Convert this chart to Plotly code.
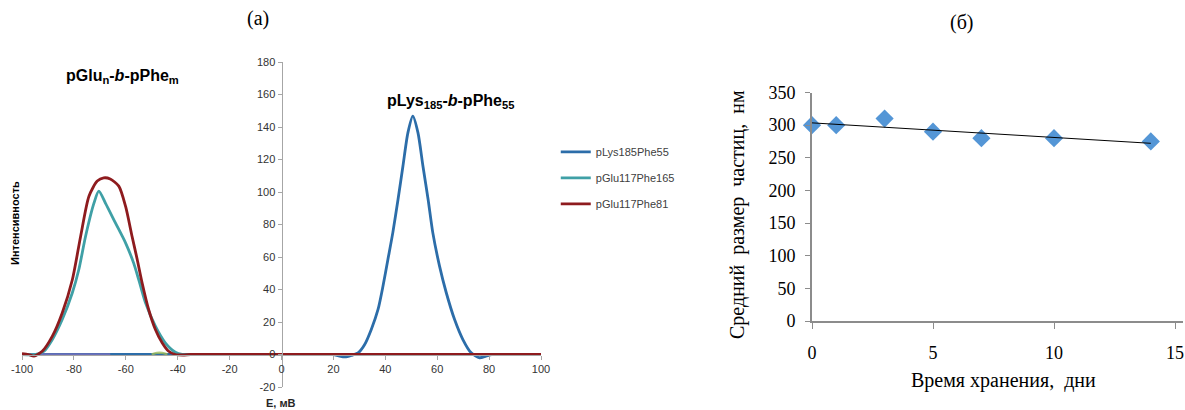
import numpy as np
import plotly.graph_objects as go

# ---------------- data: panel (a) ----------------
lys_x = [-100, -80, -60, -40, -20, 0, 15, 20, 22, 24.5, 27, 29.5, 32, 34.6, 37.2, 39.1, 41, 42.9,
         44.9, 46.8, 48.7, 50.6, 52.6, 54.5, 56.5, 58.3, 60.9, 63.5, 66.7, 69.9, 73.1, 76.3,
         78.8, 81, 85, 90, 100]
lys_y = [0, 0, 0, 0, 0, 0, 0, 0, -0.8, -1.5, -0.5, 1, 6, 15.4, 27.7, 42, 58.5, 75,
         95.4, 116, 136.4, 146.7, 136.4, 116, 95.4, 75, 54.4, 38, 21.5, 9.2, 1, -2,
         -1, 0, 0, 0, 0]

glu165_x = [-100, -94.7, -91.5, -88.3, -84.5, -80.6, -78.1, -75.5, -72.3, -70.4, -67.8, -64,
            -60.1, -57, -55, -52.4, -48.6, -44.8, -40.9, -38.3, -34, -30, -20, 0, 20, 40,
            60, 80, 100]
glu165_y = [0, 0, 2, 9.2, 21.5, 38, 52.3, 72.8, 93, 100.5, 93, 81,
            68.7, 56.4, 46, 31.8, 17.4, 7.2, 1.4, 0, 0, 0, 0, 0, 0, 0,
            0, 0, 0]

glu81_x = [-100, -97.5, -95.4, -92.2, -88.3, -84.5, -80.6, -77.4, -74.2, -71, -68.5, -66,
           -62.7, -60.1, -57.6, -55.6, -53.7, -51.2, -48.6, -46, -43.5, -40.9, -38, -35,
           -30, -20, 0, 20, 40, 60, 80, 100]
glu81_y = [0.5, 0, -1, 2, 11.3, 25.6, 46, 72.8, 97.4, 106.7, 108.7, 108,
           103.6, 91.3, 72.8, 58.5, 44, 27.7, 15.4, 7.2, 2, 0, -0.3, 0,
           0, 0, 0, 0, 0, 0, 0, 0]

other1_x = [-100, -66]
other1_y = [0, 0]
other2_x = [-50, -48, -46, -44]
other2_y = [0, 1, 1, 0]

e_ticks = list(range(-100, 101, 20))
e_labels = [str(v) for v in e_ticks]
i_ticks = list(range(-20, 181, 20))
i_labels = [str(v) for v in i_ticks]

# ---------------- data: panel (б) ----------------
days = [0, 1, 3, 5, 7, 10, 14]
size_nm = [300, 300, 310, 290, 280, 280, 275]
day_ticks = [0, 5, 10, 15]
size_ticks = list(range(0, 351, 50))

W, H = 1185, 410
SANS = "Liberation Sans, Arial, sans-serif"
SERIF = "Liberation Serif, Times New Roman, serif"

fig = go.Figure()

fig.add_trace(go.Scatter(x=lys_x, y=lys_y, mode="lines", name="pLys185Phe55",
                         line=dict(color="#2C6DA9", width=2.8, shape="spline", smoothing=0.7),
                         xaxis="x", yaxis="y", legendgroup="a"))
fig.add_trace(go.Scatter(x=other1_x, y=other1_y, mode="lines", showlegend=False,
                         line=dict(color="#8770C0", width=2.5), opacity=0.7,
                         xaxis="x", yaxis="y"))
fig.add_trace(go.Scatter(x=other2_x, y=other2_y, mode="lines", showlegend=False,
                         line=dict(color="#9BBB59", width=2.5, shape="spline"), opacity=0.8,
                         xaxis="x", yaxis="y"))
fig.add_trace(go.Scatter(x=glu165_x, y=glu165_y, mode="lines", name="pGlu117Phe165",
                         line=dict(color="#3FA0A6", width=2.8, shape="spline", smoothing=0.7),
                         xaxis="x", yaxis="y", legendgroup="b"))
fig.add_trace(go.Scatter(x=glu81_x, y=glu81_y, mode="lines", name="pGlu117Phe81",
                         line=dict(color="#8E1B1E", width=2.8, shape="spline", smoothing=0.7),
                         xaxis="x", yaxis="y", legendgroup="c"))

# panel (б)
fig.add_trace(go.Scatter(x=days, y=size_nm, mode="markers", showlegend=False,
                         marker=dict(symbol="diamond", size=14, color="#5496D6"),
                         cliponaxis=False, xaxis="x2", yaxis="y2"))
coef = np.polyfit(days, size_nm, 1)
trend_x = [min(days), max(days)]
trend_y = [coef[0] * v + coef[1] for v in trend_x]
fig.add_trace(go.Scatter(x=trend_x, y=trend_y, mode="lines", showlegend=False,
                         line=dict(color="black", width=1),
                         xaxis="x2", yaxis="y2"))

ax_col = "#A6A6A6"
tick_font_a = dict(family=SANS, size=11, color="#333333")

fig.update_layout(
    width=W, height=H,
    margin=dict(l=0, r=0, t=0, b=0, autoexpand=False),
    paper_bgcolor="white", plot_bgcolor="white",
    showlegend=True,
    legend=dict(x=0.469, y=0.665, xanchor="left", yanchor="top",
                font=dict(family=SANS, size=11, color="#404040"),
                bgcolor="rgba(0,0,0,0)", tracegroupgap=7, itemwidth=30),
    xaxis=dict(domain=[22 / W, 541 / W], range=[-100, 100], anchor="free",
               position=(H - 355) / H, showline=True, linecolor=ax_col, linewidth=1,
               ticks="outside", ticklen=4, tickcolor=ax_col,
               tickmode="array", tickvals=e_ticks, ticktext=e_labels,
               tickfont=tick_font_a, showgrid=False, zeroline=False, automargin=False),
    yaxis=dict(domain=[(H - 387) / H, (H - 62) / H], range=[-20, 180], anchor="free",
               position=281.5 / W, showline=True, linecolor=ax_col, linewidth=1,
               ticks="outside", ticklen=4, tickcolor=ax_col,
               tickmode="array", tickvals=i_ticks, ticktext=i_labels,
               tickfont=tick_font_a, showgrid=False, zeroline=False, automargin=False),
    xaxis2=dict(domain=[812 / W, 1183 / W], range=[0, 15.33], anchor="y2",
                showline=True, linecolor="#8C8C8C", linewidth=2,
                ticks="outside", ticklen=6, tickcolor="#8C8C8C", tickvals=day_ticks,
                tickfont=dict(family=SERIF, size=18, color="black"),
                ticklabelstandoff=8, showgrid=False, zeroline=False, automargin=False),
    yaxis2=dict(domain=[(H - 321) / H, (H - 92.5) / H], range=[0, 350], anchor="x2",
                showline=True, linecolor="#8C8C8C", linewidth=2,
                ticks="outside", ticklen=5, tickcolor="#8C8C8C", tickvals=size_ticks,
                tickfont=dict(family=SERIF, size=18, color="black"),
                ticklabelstandoff=6, showgrid=False, zeroline=False, automargin=False),
)

ann = [
    dict(text="(а)", x=258 / W, y=(H - 18) / H, font=dict(family=SERIF, size=20, color="black")),
    dict(text="(б)", x=962 / W, y=(H - 22) / H, font=dict(family=SERIF, size=20, color="black")),
    dict(text="<b>pGlu<sub>n</sub>-<i>b</i>-pPhe<sub>m</sub></b>", x=122 / W, y=(H - 76) / H,
         font=dict(family=SANS, size=16, color="black")),
    dict(text="<b>pLys<sub>185</sub>-<i>b</i>-pPhe<sub>55</sub></b>", x=450 / W, y=(H - 101) / H,
         font=dict(family=SANS, size=16, color="black")),
    dict(text="<b>Интенсивность</b>", x=15 / W, y=(H - 223) / H, textangle=-90,
         font=dict(family=SANS, size=11, color="black")),
    dict(text="<b>E, мВ</b>", x=281 / W, y=(H - 403) / H,
         font=dict(family=SANS, size=11, color="#262626")),
    dict(text="Средний  размер  частиц,  нм", x=737 / W, y=(H - 215) / H, textangle=-90,
         font=dict(family=SERIF, size=20, color="black")),
    dict(text="Время хранения,  дни", x=1003 / W, y=(H - 380) / H,
         font=dict(family=SERIF, size=20, color="black")),
]
for a in ann:
    a.update(xref="paper", yref="paper", showarrow=False, xanchor="center", yanchor="middle")
fig.update_layout(annotations=ann)

fig.write_html("out.html", config={"displayModeBar": False},
               post_script="document.body.style.margin='0px';document.body.style.overflow='hidden';")
